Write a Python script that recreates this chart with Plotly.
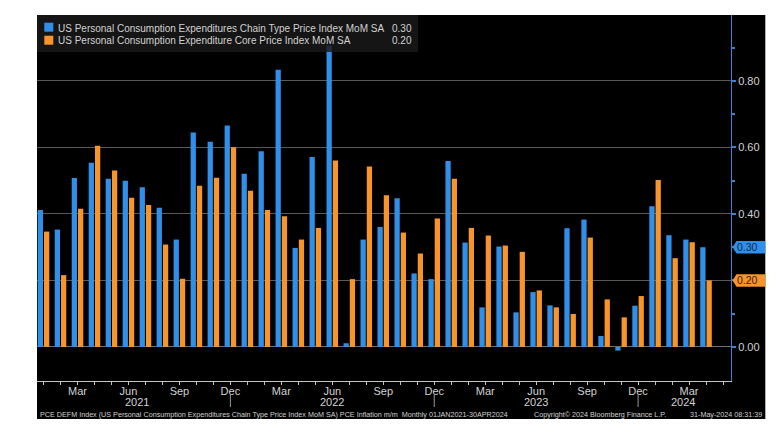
import plotly.graph_objects as go

# ---------------- data ----------------
months = ["Jan", "Feb", "Mar", "Apr", "May", "Jun", "Jul", "Aug", "Sep", "Oct", "Nov", "Dec"]
years = [2021, 2022, 2023, 2024]
periods = [f"{m} {y}" for y in years for m in months][:40]   # Jan 2021 .. Apr 2024

headline = [0.412, 0.353, 0.508, 0.554, 0.506, 0.500, 0.480, 0.419, 0.323, 0.645, 0.617, 0.666,
            0.521, 0.589, 0.834, 0.298, 0.571, 0.907, 0.011, 0.323, 0.361, 0.447, 0.221, 0.204,
            0.559, 0.314, 0.119, 0.302, 0.104, 0.165, 0.125, 0.357, 0.383, 0.033, -0.011, 0.124,
            0.423, 0.336, 0.323, 0.300]
core = [0.347, 0.216, 0.416, 0.605, 0.531, 0.449, 0.427, 0.308, 0.205, 0.485, 0.509, 0.601,
        0.470, 0.412, 0.393, 0.323, 0.358, 0.561, 0.204, 0.543, 0.456, 0.344, 0.281, 0.386,
        0.506, 0.358, 0.335, 0.305, 0.286, 0.170, 0.119, 0.099, 0.329, 0.143, 0.089, 0.153,
        0.502, 0.267, 0.315, 0.200]

name_headline = "US Personal Consumption Expenditures Chain Type Price Index MoM SA"
name_core = "US Personal Consumption Expenditure Core Price Index MoM SA"
last_headline = "0.30"
last_core = "0.20"

ytick_vals = [0.0, 0.2, 0.4, 0.6, 0.8]
# the 0.20 label is covered by the last-value tag in the reference
ytick_text = ["0.00", "", "0.40", "0.60", "0.80"]
month_label_every = ["Mar", "Jun", "Sep", "Dec"]
year_labels = ["2021", "2022", "2023", "2024"]
year_label_pos = [5.48, 17.0, 29.0, 37.65]
year_separators = [11, 23, 35]

footer_left = ("PCE DEFM Index (US Personal Consumption Expenditures Chain Type Price Index MoM SA) "
               "PCE Inflation m/m  Monthly 01JAN2021-30APR2024")
footer_mid = "Copyright\u00a9 2024 Bloomberg Finance L.P."
footer_right = "31-May-2024 08:31:39"

# ---------------- style ----------------
BLUE = "#2f8fe9"
ORANGE = "#f7952b"
TXT = "#d2d2d2"
FONT = "Liberation Sans"

W, H = 778, 437
L, R, T, B = 37, 730.7, 15, 381   # plot area in px


def px_x(p):
    return (p - L) / (R - L)


def px_y(p):
    return (B - p) / (B - T)


x_idx = list(range(len(periods)))

fig = go.Figure()
fig.add_trace(go.Bar(x=x_idx, y=headline, name=name_headline, marker_color=BLUE,
                     marker_line_width=0, width=0.31, offset=-0.34, customdata=periods,
                     hovertemplate="%{customdata}: %{y:.2f}<extra></extra>", showlegend=False))
fig.add_trace(go.Bar(x=x_idx, y=core, name=name_core, marker_color=ORANGE,
                     marker_line_width=0, width=0.31, offset=0.03, customdata=periods,
                     hovertemplate="%{customdata}: %{y:.2f}<extra></extra>", showlegend=False))

# x ticks: one per month, labels every quarter
tickvals = list(range(len(periods) + 1))
ticktext = []
for i in tickvals:
    m = months[i % 12]
    ticktext.append(m if m in month_label_every else "")

shapes = [
    # black Bloomberg panel
    dict(type="rect", xref="paper", yref="paper", x0=px_x(37), x1=px_x(765), y0=px_y(419), y1=px_y(15),
         fillcolor="black", line_width=0, layer="below"),
    # legend box
    dict(type="rect", xref="paper", yref="paper", x0=px_x(37), x1=px_x(418), y0=px_y(52), y1=px_y(15),
         fillcolor="rgba(26,26,26,0.82)", line_width=0, layer="above"),
    dict(type="rect", xref="paper", yref="paper", x0=px_x(44.3), x1=px_x(53.3), y0=px_y(31.7), y1=px_y(22.7),
         fillcolor=BLUE, line_width=0, layer="above"),
    dict(type="rect", xref="paper", yref="paper", x0=px_x(44.3), x1=px_x(53.3), y0=px_y(44.7), y1=px_y(35.7),
         fillcolor=ORANGE, line_width=0, layer="above"),
]
for s in year_separators:
    shapes.append(dict(type="line", xref="x", yref="paper", x0=s, x1=s, y0=px_y(407), y1=px_y(395),
                       line=dict(color="#9a9a9a", width=1)))

# last value tags on the right axis
for val, col in [(float(last_headline), BLUE), (float(last_core), ORANGE)]:
    shapes.append(dict(type="path", xref="paper", yref="y", xsizemode="pixel", ysizemode="pixel",
                       xanchor=1, yanchor=val,
                       path="M 1.5,0 L 5.5,6.2 L 34.3,6.2 L 34.3,-6.2 L 5.5,-6.2 Z",
                       fillcolor=col, line_width=0, layer="above"))

LEG = 10
annotations = [
    dict(text=name_headline, xref="paper", yref="paper", x=px_x(56), y=px_y(28.3), xanchor="left",
         yanchor="middle", showarrow=False, font=dict(family=FONT, size=LEG, color=TXT)),
    dict(text=name_core, xref="paper", yref="paper", x=px_x(56), y=px_y(40.7), xanchor="left",
         yanchor="middle", showarrow=False, font=dict(family=FONT, size=LEG, color=TXT)),
    dict(text=last_headline, xref="paper", yref="paper", x=px_x(413.5), y=px_y(28.3), xanchor="right",
         yanchor="middle", showarrow=False, font=dict(family=FONT, size=LEG, color=TXT)),
    dict(text=last_core, xref="paper", yref="paper", x=px_x(413.5), y=px_y(40.7), xanchor="right",
         yanchor="middle", showarrow=False, font=dict(family=FONT, size=LEG, color=TXT)),
    dict(text=last_headline, xref="paper", yref="y", x=px_x(747), y=float(last_headline), xanchor="center",
         yanchor="middle", showarrow=False, font=dict(family=FONT, size=10.5, color="#0d2848")),
    dict(text=last_core, xref="paper", yref="y", x=px_x(747), y=float(last_core), xanchor="center",
         yanchor="middle", showarrow=False, font=dict(family=FONT, size=10.5, color="#3a1f00")),
    dict(text=footer_left, xref="paper", yref="paper", x=px_x(38), y=px_y(414.3), xanchor="left",
         yanchor="middle", showarrow=False, font=dict(family=FONT, size=7.2, color=TXT)),
    dict(text=footer_mid, xref="paper", yref="paper", x=px_x(532), y=px_y(414.3), xanchor="left",
         yanchor="middle", showarrow=False, font=dict(family=FONT, size=7.2, color=TXT)),
    dict(text=footer_right, xref="paper", yref="paper", x=px_x(763.5), y=px_y(414.3), xanchor="right",
         yanchor="middle", showarrow=False, font=dict(family=FONT, size=7.2, color=TXT)),
]
for lab, pos in zip(year_labels, year_label_pos):
    annotations.append(dict(text=lab, xref="x", yref="paper", x=pos, y=px_y(401.7), xanchor="center",
                            yanchor="middle", showarrow=False, font=dict(family=FONT, size=11, color=TXT)))

fig.update_layout(
    width=W, height=H,
    margin=dict(l=L, r=W - R, t=T, b=H - B, pad=0),
    paper_bgcolor="white", plot_bgcolor="black",
    barmode="overlay",
    font=dict(family=FONT, color=TXT),
    shapes=shapes, annotations=annotations,
    xaxis=dict(range=[-0.383, 40.47], tickmode="array", tickvals=tickvals, ticktext=ticktext,
               showgrid=False, zeroline=False, showline=True, linecolor="#c4c4c4", linewidth=1,
               ticks="outside", ticklen=3, tickcolor="#c4c4c4", tickwidth=1,
               tickfont=dict(family=FONT, size=11, color=TXT), ticklabelstandoff=-3),
    yaxis=dict(side="right", range=[-0.1025, 0.9985], tickmode="array", tickvals=ytick_vals,
               ticktext=ytick_text, showgrid=True, gridcolor="#595959", gridwidth=1,
               zeroline=True, zerolinecolor="#707070", zerolinewidth=1,
               showline=True, linecolor="#3b82d6", linewidth=1,
               ticks="outside", ticklen=4, tickwidth=2, tickcolor="#3b82d6",
               minor=dict(tickvals=[0.1, 0.3, 0.5, 0.7, 0.9], ticks="outside", ticklen=3,
                          tickcolor="#3b82d6", showgrid=False),
               tickfont=dict(family=FONT, size=11, color=TXT)),
)

fig.write_html("out.html")
